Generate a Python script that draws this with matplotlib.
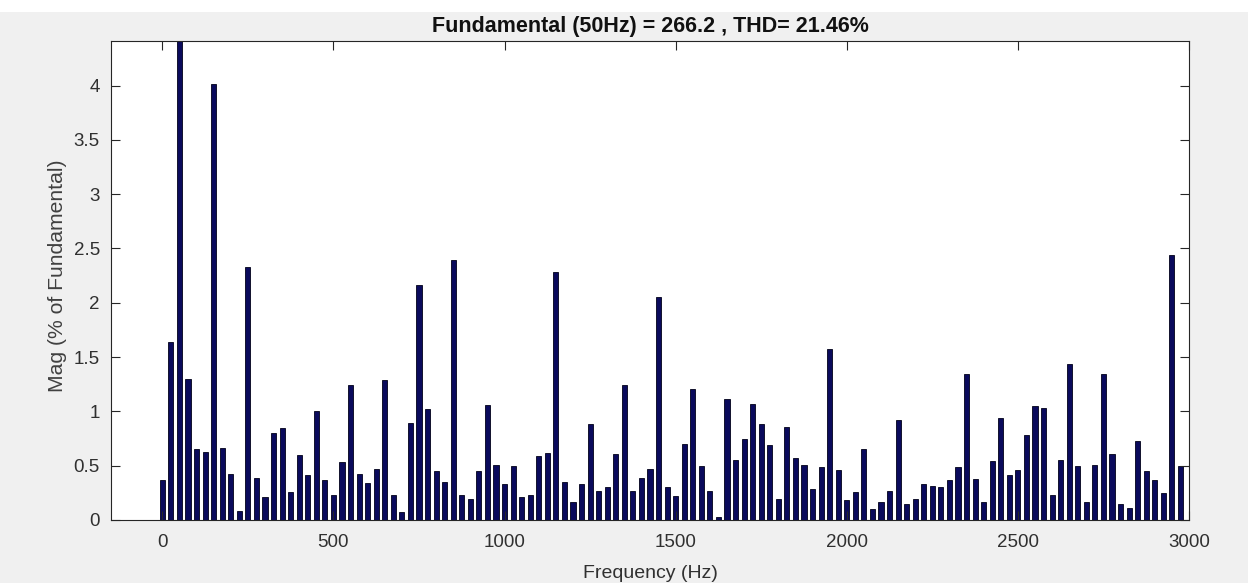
import numpy as np
import matplotlib
matplotlib.use("Agg")
import matplotlib.pyplot as plt
from matplotlib.patches import Rectangle

# Harmonic spectrum, 25 Hz resolution, magnitudes in % of the 50 Hz fundamental
freq_step = 25
magnitudes = [
    0.37, 1.64, 100.0, 1.30, 0.65, 0.63, 4.01, 0.66, 0.42, 0.08,   # 0 - 225
    2.33, 0.39, 0.21, 0.80, 0.85, 0.26, 0.60, 0.41, 1.00, 0.37,    # 250 - 475
    0.23, 0.53, 1.24, 0.42, 0.34, 0.47, 1.29, 0.23, 0.07, 0.89,    # 500 - 725
    2.16, 1.02, 0.45, 0.35, 2.39, 0.23, 0.19, 0.45, 1.06, 0.51,    # 750 - 975
    0.33, 0.50, 0.21, 0.23, 0.59, 0.62, 2.28, 0.35, 0.17, 0.33,    # 1000 - 1225
    0.88, 0.27, 0.30, 0.61, 1.24, 0.27, 0.39, 0.47, 2.05, 0.30,    # 1250 - 1475
    0.22, 0.70, 1.21, 0.50, 0.27, 0.03, 1.11, 0.55, 0.75, 1.07,    # 1500 - 1725
    0.88, 0.69, 0.19, 0.86, 0.57, 0.51, 0.29, 0.49, 1.57, 0.46,    # 1750 - 1975
    0.18, 0.26, 0.65, 0.10, 0.17, 0.27, 0.92, 0.15, 0.19, 0.33,    # 2000 - 2225
    0.31, 0.30, 0.37, 0.49, 1.34, 0.38, 0.17, 0.54, 0.94, 0.41,    # 2250 - 2475
    0.46, 0.78, 1.05, 1.03, 0.23, 0.55, 1.44, 0.50, 0.17, 0.51,    # 2500 - 2725
    1.34, 0.61, 0.15, 0.11, 0.73, 0.45, 0.37, 0.25, 2.44, 0.50,    # 2750 - 2975
]
frequencies = np.arange(len(magnitudes)) * freq_step

x_ticks = [0, 500, 1000, 1500, 2000, 2500, 3000]
y_ticks = [0, 0.5, 1, 1.5, 2, 2.5, 3, 3.5, 4]
y_tick_labels = ["0", "0.5", "1", "1.5", "2", "2.5", "3", "3.5", "4"]

title_text = "Fundamental (50Hz) = 266.2 , THD= 21.46%"
x_label = "Frequency (Hz)"
y_label = "Mag (% of Fundamental)"

plt.rcParams["font.family"] = ["Liberation Sans", "DejaVu Sans"]

W, H, DPI = 1248, 583, 100
fig = plt.figure(figsize=(W / DPI, H / DPI), dpi=DPI, facecolor="#f0f0f0")
# white strip along the top edge of the window
fig.patches.append(Rectangle((0, 1 - 12 / H), 1, 12 / H, transform=fig.transFigure,
                             facecolor="white", edgecolor="none", zorder=0))

left, right, top, bottom = 111 / W, 1189 / W, 1 - 41 / H, 1 - 520 / H
ax = fig.add_axes([left, bottom, right - left, top - bottom])
ax.set_facecolor("white")

ax.bar(frequencies, magnitudes, width=15, color="#0a0a5c", edgecolor="#000018",
       linewidth=0.6, align="center")

ax.set_xlim(-150, 3000)
ax.set_ylim(0, 4.41)
ax.set_xticks(x_ticks)
ax.set_yticks(y_ticks)
ax.set_yticklabels(y_tick_labels)

txt_col = "#303030"
ax.tick_params(direction="in", length=6.5, width=0.8, colors="#262626",
               labelsize=13.5, top=True, right=True, labelcolor=txt_col)
ax.tick_params(axis="x", pad=10)
ax.tick_params(axis="y", pad=8)
for s in ax.spines.values():
    s.set_color("#262626")
    s.set_linewidth(0.8)

ax.set_title(title_text, fontsize=15.5, fontweight="bold", color="#111111", pad=6.5)
ax.set_xlabel(x_label, fontsize=14, color=txt_col, labelpad=10)
ax.set_ylabel(y_label, fontsize=15.2, color="#404040")
ax.yaxis.set_label_coords(-44 / (1189 - 111), 0.51)

fig.savefig("out.png", dpi=DPI, facecolor=fig.get_facecolor())
